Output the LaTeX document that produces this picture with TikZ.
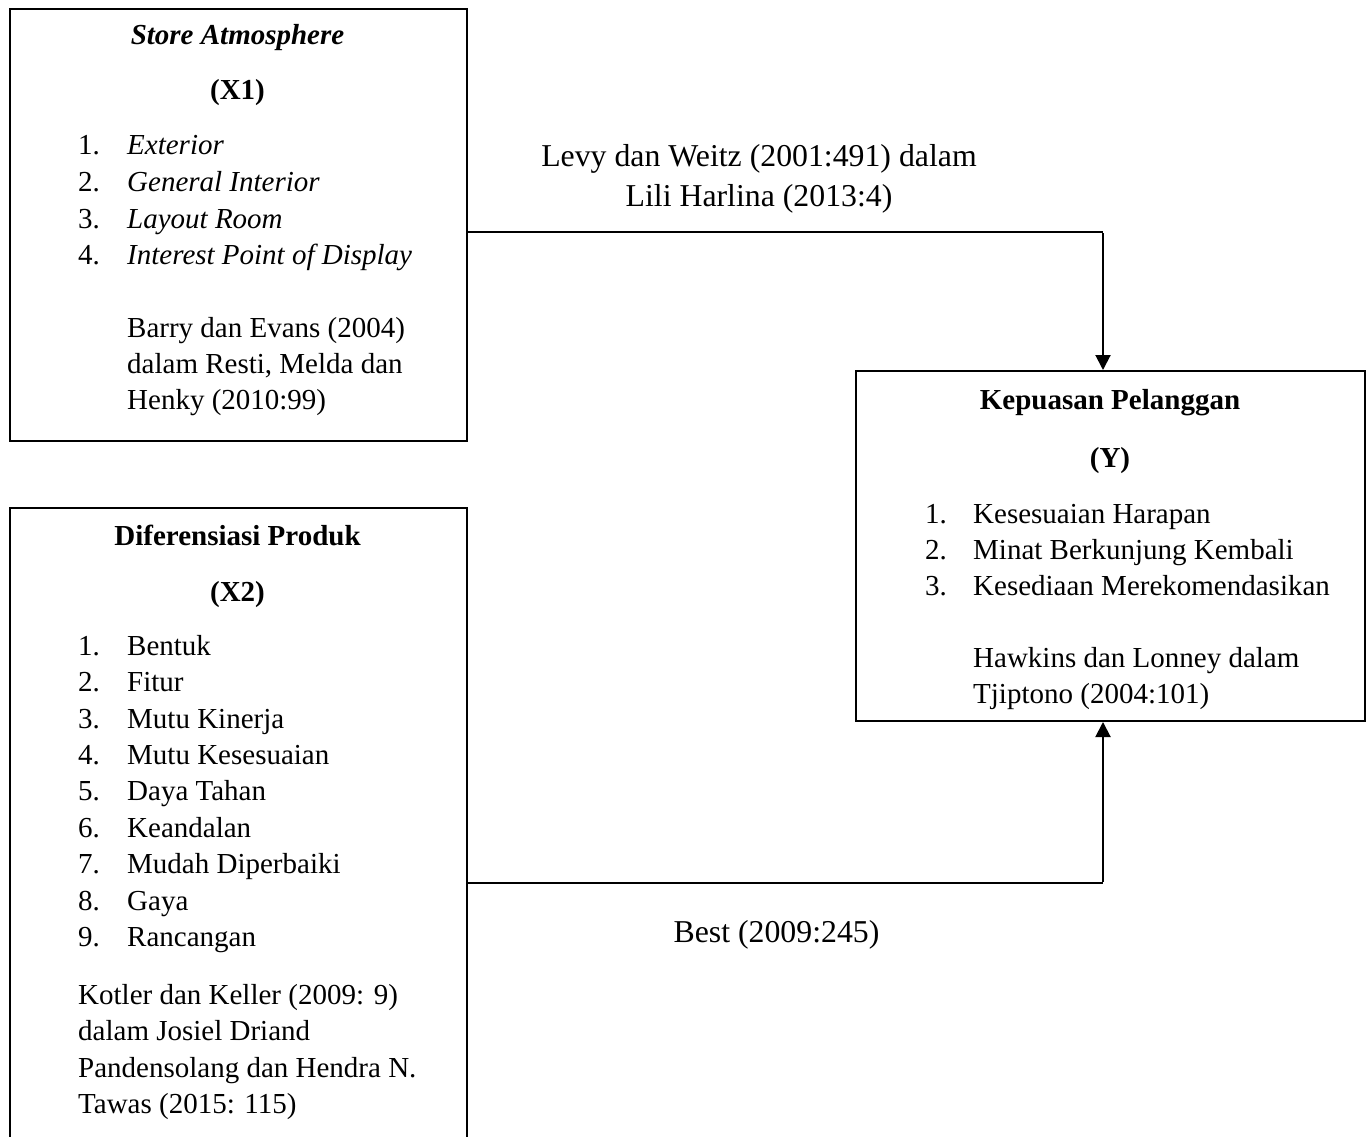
\documentclass[tikz,border=0pt]{standalone}
\usepackage{fontspec}
\setmainfont{Liberation Serif}
\usetikzlibrary{arrows.meta}
\begin{document}
\begin{tikzpicture}[x=1pt,y=-1pt,
  box/.style={draw,line width=2pt,inner sep=0pt,anchor=north west},
  txt/.style={inner sep=0pt,anchor=base west,font=\fontsize{29}{36}\selectfont},
  ctr/.style={inner sep=0pt,anchor=base,font=\fontsize{29}{36}\selectfont\bfseries},
  lbl/.style={inner sep=0pt,anchor=base,font=\fontsize{31.8}{40}\selectfont},
  link/.style={line width=1.3pt},
  linkv/.style={line width=2pt,-{Triangle[width=15pt,length=15pt]}}]
\useasboundingbox (0,0) rectangle (1366,1137);
\clip (0,0) rectangle (1366,1137);

% boxes
\node[box,minimum width=457pt,minimum height=432pt] (x1) at (9,8) {};
\node[box,minimum width=457pt,minimum height=700pt] (x2) at (9,507) {};
\node[box,minimum width=509pt,minimum height=350pt] (y) at (855,370) {};

% connectors
\coordinate (k1) at (1103,232);
\coordinate (k2) at (1103,883);
\draw[link] (x1.east |- k1) -- (k1);
\draw[linkv] ([yshift=-1pt]k1) -- (k1 |- y.north);
\draw[link] (x2.east |- k2) -- (k2);
\draw[linkv] ([yshift=1pt]k2) -- (k2 |- y.south);

% connector labels
\node[lbl] (l1a) at (759,167) {Levy dan Weitz (2001:491) dalam};
\node[lbl] (l1b) at (759,207) {Lili Harlina (2013:4)};
\node[lbl] (l2) at (776.5,942) {Best (2009:245)};

% X1 contents
\node[ctr] (x1t) at (237.5,45) {\itshape Store Atmosphere};
\node[ctr] (x1v) at (237.5,100) {(X1)};
\foreach \n/\yy/\t in {1/155/Exterior,2/191.5/General Interior,3/228/Layout Room,4/264/Interest Point of Display}{
  \node[txt] (x1n\n) at (78,\yy) {\n.};
  \node[txt] (x1i\n) at (127,\yy) {\itshape \t};
}
\node[txt] (x1r1) at (127,337) {Barry dan Evans (2004)};
\node[txt] (x1r2) at (127,373) {dalam Resti, Melda dan};
\node[txt] (x1r3) at (127,409) {Henky (2010:99)};

% X2 contents
\node[ctr] (x2t) at (237.5,545) {Diferensiasi Produk};
\node[ctr] (x2v) at (237.5,601) {(X2)};
\foreach \n/\yy/\t in {1/655/Bentuk,2/691.5/Fitur,3/728/Mutu Kinerja,4/764/Mutu Kesesuaian,5/800.5/Daya Tahan,6/837/Keandalan,7/873/Mudah Diperbaiki,8/910/Gaya,9/946/Rancangan}{
  \node[txt] (x2n\n) at (78,\yy) {\n.};
  \node[txt] (x2i\n) at (127,\yy) {\t};
}
\node[txt] (x2r1) at (78,1004) {Kotler dan Keller (2009: 9)};
\node[txt] (x2r2) at (78,1040) {dalam Josiel Driand};
\node[txt] (x2r3) at (78,1077) {Pandensolang dan Hendra N.};
\node[txt] (x2r4) at (78,1113) {Tawas (2015: 115)};

% Y contents
\node[ctr] (yt) at (1110,409) {Kepuasan Pelanggan};
\node[ctr] (yv) at (1110,467) {(Y)};
\foreach \n/\yy/\t in {1/523/Kesesuaian Harapan,2/559/Minat Berkunjung Kembali,3/595/Kesediaan Merekomendasikan}{
  \node[txt] (yn\n) at (925,\yy) {\n.};
  \node[txt] (yi\n) at (973,\yy) {\t};
}
\node[txt] (yr1) at (973,667) {Hawkins dan Lonney dalam};
\node[txt] (yr2) at (973,703) {Tjiptono (2004:101)};
\end{tikzpicture}
\end{document}
